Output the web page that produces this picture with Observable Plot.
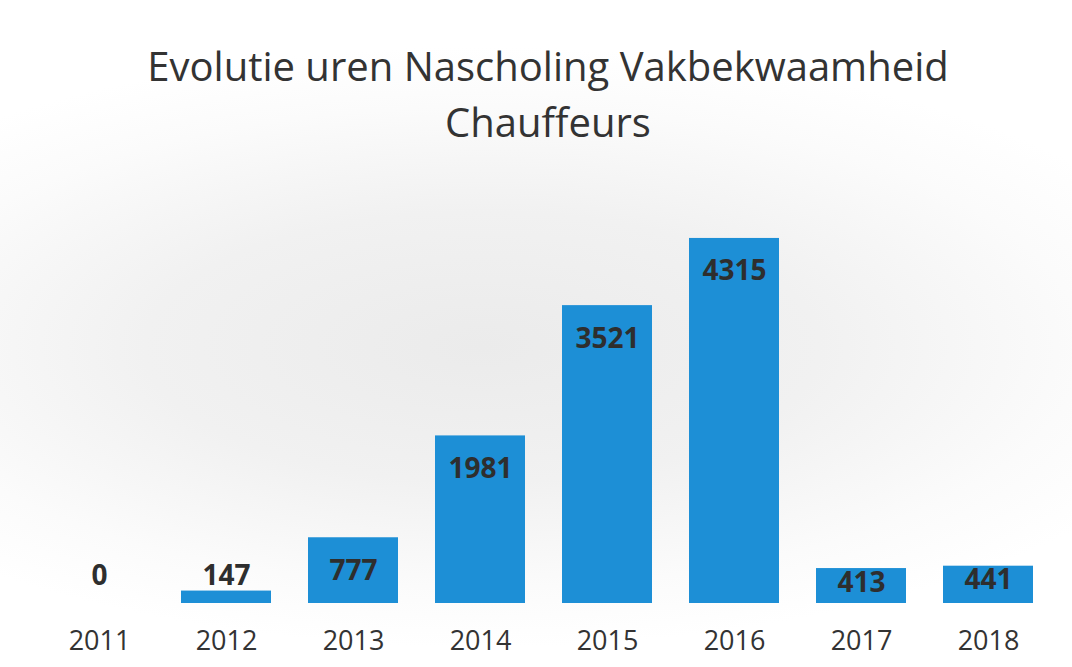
<!DOCTYPE html>
<html>
<head>
<meta charset="utf-8">
<script src="https://cdn.jsdelivr.net/npm/d3@7"></script>
<script src="https://cdn.jsdelivr.net/npm/@observablehq/plot@0.6"></script>
<style>
  html, body { margin: 0; padding: 0; }
  body {
    width: 1072px; height: 667px; overflow: hidden;
    font-family: "Open Sans", sans-serif;
    background: radial-gradient(ellipse 70% 45% at 45% 52%, #ebebeb 0%, #f1f1f1 45%, #fbfbfb 80%, #ffffff 100%);
  }
  #title {
    height: 160px; box-sizing: border-box; padding-top: 38px; padding-left: 24px;
    text-align: center; color: #333; font-size: 40px; line-height: 56px;
  }
</style>
</head>
<body>
<div id="title">Evolutie uren Nascholing Vakbekwaamheid<br>Chauffeurs</div>
<div id="chart"></div>
<script>
const years = ["2011", "2012", "2013", "2014", "2015", "2016", "2017", "2018"];
const hours = [0, 147, 777, 1981, 3521, 4315, 413, 441];

const data = years.map((y, i) => ({year: y, value: hours[i]}));
const labelStyle = {fontSize: 28, fontWeight: "bold", fill: "#2e2e2e", lineAnchor: "middle"};

const chart = Plot.plot({
  width: 1072,
  height: 507,
  marginLeft: 34,
  marginRight: 18,
  marginTop: 20,
  marginBottom: 64,
  style: {background: "transparent", fontFamily: "Open Sans, sans-serif"},
  x: {domain: years, paddingInner: 0.29, paddingOuter: 0.145, label: null},
  y: {domain: [0, 5000], axis: null},
  marks: [
    Plot.barY(data, {x: "year", y: "value", fill: "#1d8fd6"}),
    Plot.text(data.filter(d => d.value >= 700), {x: "year", y: "value", text: d => String(d.value), dy: 33, ...labelStyle}),
    Plot.text(data.filter(d => d.value >= 300 && d.value < 700), {x: "year", y: "value", text: d => String(d.value), dy: 14, ...labelStyle}),
    Plot.text(data.filter(d => d.value < 300), {x: "year", y: 0, text: d => String(d.value), dy: -27, ...labelStyle}),
    Plot.axisX({tickSize: 0, tickPadding: 27, fontSize: 27, color: "#333", label: null})
  ]
});
document.getElementById("chart").appendChild(chart);
</script>
</body>
</html>
